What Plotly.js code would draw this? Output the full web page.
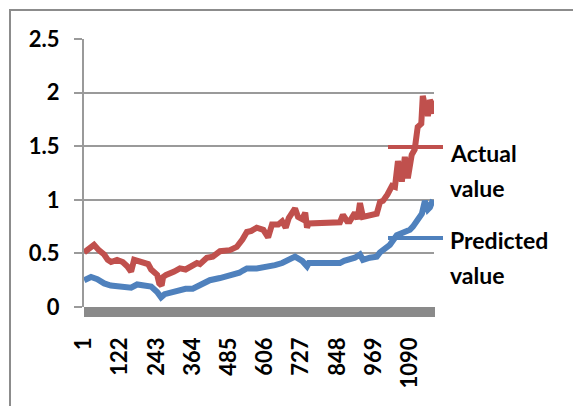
<!DOCTYPE html>
<html>
<head>
<meta charset="utf-8">
<script src="https://cdn.plot.ly/plotly-3.0.1.min.js"></script>
<style>html,body{margin:0;padding:0;background:#fff;}#chart{width:573px;height:406px;}</style>
</head>
<body>
<div id="chart"></div>
<script>
// Category count on the x axis
var nCategories = 1170;
var tickValues = [1, 122, 243, 364, 485, 606, 727, 848, 969, 1090];
var tickLabels = ["1", "122", "243", "364", "485", "606", "727", "848", "969", "1090"];

// Actual value series (category index, value)
var actualX = [1, 20, 34, 50, 68, 80, 91, 111, 130, 145, 158, 168, 185, 202, 215, 225, 245, 252, 260, 265, 275, 302, 321, 340, 354, 364, 378, 388, 411, 431, 455, 488, 511, 530, 545, 560, 578, 600, 606, 616, 629, 650, 663, 675, 685, 706, 716, 730, 740, 746, 752, 789, 840, 856, 866, 880, 889, 906, 915, 923, 933, 956, 979, 990, 1000, 1015, 1030, 1040, 1050, 1056, 1063, 1073, 1083, 1096, 1106, 1116, 1128, 1133, 1140, 1147, 1150, 1157, 1163, 1167];
var actualY = [0.51, 0.56, 0.58, 0.53, 0.49, 0.44, 0.42, 0.44, 0.42, 0.38, 0.33, 0.44, 0.43, 0.42, 0.40, 0.35, 0.30, 0.22, 0.20, 0.28, 0.30, 0.33, 0.36, 0.35, 0.37, 0.39, 0.41, 0.40, 0.46, 0.47, 0.52, 0.53, 0.56, 0.63, 0.70, 0.71, 0.74, 0.72, 0.70, 0.65, 0.77, 0.77, 0.80, 0.74, 0.83, 0.92, 0.84, 0.82, 0.88, 0.74, 0.78, 0.78, 0.78, 0.79, 0.86, 0.80, 0.80, 0.88, 0.82, 0.97, 0.84, 0.86, 0.87, 0.98, 0.99, 1.05, 1.13, 1.12, 1.36, 1.30, 1.17, 1.40, 1.20, 1.42, 1.47, 1.68, 1.71, 1.97, 1.88, 1.90, 1.78, 1.93, 1.90, 1.80];

// Predicted value series (category index, value)
var predX = [1, 24, 45, 68, 90, 111, 130, 158, 178, 200, 225, 245, 258, 270, 302, 321, 340, 364, 380, 411, 421, 455, 498, 520, 532, 545, 578, 606, 639, 663, 683, 706, 730, 746, 752, 789, 856, 870, 889, 906, 923, 933, 956, 979, 990, 1000, 1023, 1046, 1066, 1090, 1100, 1113, 1123, 1130, 1140, 1150, 1157, 1163, 1167];
var predY = [0.25, 0.28, 0.26, 0.22, 0.20, 0.19, 0.19, 0.18, 0.21, 0.20, 0.19, 0.14, 0.09, 0.12, 0.14, 0.16, 0.17, 0.17, 0.19, 0.23, 0.25, 0.27, 0.30, 0.32, 0.34, 0.36, 0.36, 0.37, 0.39, 0.41, 0.44, 0.47, 0.43, 0.38, 0.41, 0.41, 0.41, 0.43, 0.44, 0.46, 0.49, 0.44, 0.46, 0.47, 0.51, 0.53, 0.58, 0.67, 0.69, 0.72, 0.75, 0.81, 0.85, 0.87, 0.99, 0.91, 0.93, 0.97, 1.00];

var seriesNames = ["Actual value", "Predicted value"];
var seriesColors = ["#C0504D", "#4F81BD"];

var W = 573, H = 406, mL = 84, mR = 139, mT = 39, mB = 99;
var pw = W - mL - mR, ph = H - mT - mB;
function px(x) { return (x - mL) / pw; }
function py(y) { return (H - mB - y) / ph; }

var fontFam = "Lato, 'Open Sans', sans-serif";
var grid = "#9a9a9a";

var traces = [
  {x: actualX, y: actualY, name: seriesNames[0], type: "scatter", mode: "lines",
   line: {color: seriesColors[0], width: 6}},
  {x: predX, y: predY, name: seriesNames[1], type: "scatter", mode: "lines",
   line: {color: seriesColors[1], width: 6}}
];

function legendText(t, x, y) {
  return {text: t, xref: "paper", yref: "paper", x: px(x), y: py(y), xanchor: "left", yanchor: "middle",
          showarrow: false, font: {family: fontFam, size: 23, color: "#000", weight: "bold"}};
}

var layout = {
  width: W, height: H,
  margin: {l: mL, r: mR, t: mT, b: mB, pad: 0},
  paper_bgcolor: "#fff", plot_bgcolor: "#fff",
  showlegend: false,
  font: {family: fontFam, color: "#000"},
  xaxis: {
    type: "linear", range: [0.5, nCategories + 0.5],
    tickmode: "array", tickvals: tickValues, ticktext: tickLabels,
    tickangle: -90, ticks: "", showgrid: false, zeroline: false, showline: false,
    ticklabelstandoff: 25,
    tickfont: {family: fontFam, size: 22, color: "#000", weight: "bold"}
  },
  yaxis: {
    range: [0, 2.5], tick0: 0, dtick: 0.5,
    showgrid: true, gridcolor: grid, gridwidth: 2,
    showline: true, linecolor: grid, linewidth: 2,
    ticks: "outside", ticklen: 8, tickwidth: 2, tickcolor: grid,
    zeroline: false, ticklabelstandoff: 10,
    tickfont: {family: fontFam, size: 22, color: "#000", weight: "bold"}
  },
  shapes: [
    {type: "rect", xref: "paper", yref: "paper", x0: px(10), x1: px(620), y0: py(440), y1: py(10),
     line: {color: "#8c8c8c", width: 2}, fillcolor: "rgba(0,0,0,0)", layer: "below"},
    {type: "rect", xref: "paper", yref: "paper", x0: 0, x1: px(435), y0: py(317), y1: py(307),
     line: {width: 0}, fillcolor: "#8a8a8a"},
    {type: "line", xref: "paper", yref: "paper", x0: px(388), x1: px(443), y0: py(147), y1: py(147),
     line: {color: seriesColors[0], width: 4}},
    {type: "line", xref: "paper", yref: "paper", x0: px(388), x1: px(443), y0: py(238), y1: py(238),
     line: {color: seriesColors[1], width: 4}}
  ],
  annotations: [
    legendText("Actual", 448, 153),
    legendText("value", 448, 188),
    legendText("Predicted", 448, 240),
    legendText("value", 448, 275)
  ]
};

Plotly.newPlot("chart", traces, layout, {staticPlot: true, displayModeBar: false});
</script>
</body>
</html>
